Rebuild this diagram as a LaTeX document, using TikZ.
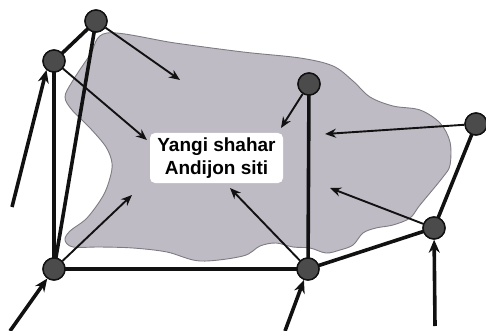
\documentclass[tikz,border=0pt]{standalone}
\usepackage{fontspec}
\setmainfont{Liberation Sans}
\usetikzlibrary{arrows.meta}
\definecolor{blobfill}{HTML}{BFBBC5}
\definecolor{blobline}{HTML}{7E7C82}
\definecolor{dotfill}{HTML}{4B4B4B}
\definecolor{ink}{HTML}{111111}
\tikzset{
  dot/.style={circle, draw=ink, line width=1.4pt, fill=dotfill, minimum size=22pt, inner sep=0pt},
  thick link/.style={draw=ink, line width=3.6pt},
  thick arrow/.style={draw=ink, line width=3.6pt, -{Stealth[length=13pt,width=11pt]}},
  thin arrow/.style={draw=ink, line width=1.9pt, -{Stealth[length=11pt,width=9pt]}},
  label box/.style={fill=white, rounded corners=5pt, minimum width=133pt, minimum height=50pt, inner sep=0pt, align=center, font=\fontsize{19pt}{22.5pt}\selectfont\bfseries}
}
\begin{document}
\begin{tikzpicture}[x=1pt,y=-1pt]
\useasboundingbox (0,0) rectangle (486,331);
% blob
\draw[blobline, line width=0.9pt, fill=blobfill] plot[smooth cycle, tension=0.55] coordinates {
 (107,33) (175,43) (243,52) (300,58) (333,66) (353,81) (370,97) (393,106) (420,110) (440,123) (450,142)
 (450,165) (443,177) (420,205) (410,218) (393,225) (376,228) (363,233) (353,245) (340,250) (326,253)
 (310,248) (293,247) (276,243) (260,246) (243,256) (200,261) (167,252) (133,248) (100,247) (73,247)
 (65,240) (70,231) (87,218) (103,196) (110,178) (112,163) (106,147) (90,128) (72,110) (65,97) (72,82) (90,55)};
% label
\node[label box] (T) at (216.5,158) {Yangi shahar\\Andijon siti};
% dots (positions)
\node[dot] (A) at (96,21) {};
\node[dot] (B) at (54,61) {};
\node[dot] (C) at (309,84) {};
\node[dot] (D) at (476,124) {};
\node[dot] (E) at (434,228) {};
\node[dot] (F) at (308,269) {};
\node[dot] (G) at (54,269) {};
% free ends
\coordinate (tA) at (180,80);
\coordinate (tB) at (147,140);
\coordinate (tC) at (281,128);
\coordinate (tD) at (325,134);
\coordinate (tE) at (330,188);
\coordinate (tF) at (230,188);
\coordinate (tG) at (132,195);
\coordinate (sB) at (12,207);
\coordinate (sG) at (10,331);
\coordinate (sF) at (285,331);
\coordinate (sE) at (435,326);
% thick links
\path[thick link] (A.center) -- (B.center);
\path[thick link] (A.center) -- (G.center);
\path[thick link] (B.center) -- (G.center);
\path[thick link] (G.center) -- (F.center);
\path[thick link] (F.center) -- (E.center);
\path[thick link] (E.center) -- (D.center);
\path[thick link] (C.center) -- (F.center);
% thin arrows into the blob
\path[thin arrow] (A) -- (tA);
\path[thin arrow] (B) -- (tB);
\path[thin arrow] (C) -- (tC);
\path[thin arrow] (D) -- (tD);
\path[thin arrow] (E) -- (tE);
\path[thin arrow] (F) -- (tF);
\path[thin arrow] (G) -- (tG);
% incoming thick arrows
\path[thick arrow] (sB) -- (B.230);
\path[thick arrow] (sG) -- (G);
\path[thick arrow] (sF) -- (F);
\path[thick arrow] (sE) -- (E);
% redraw dots on top
\foreach \n in {A,B,C,D,E,F,G}{\node[dot] at (\n) {};}
\end{tikzpicture}
\end{document}
